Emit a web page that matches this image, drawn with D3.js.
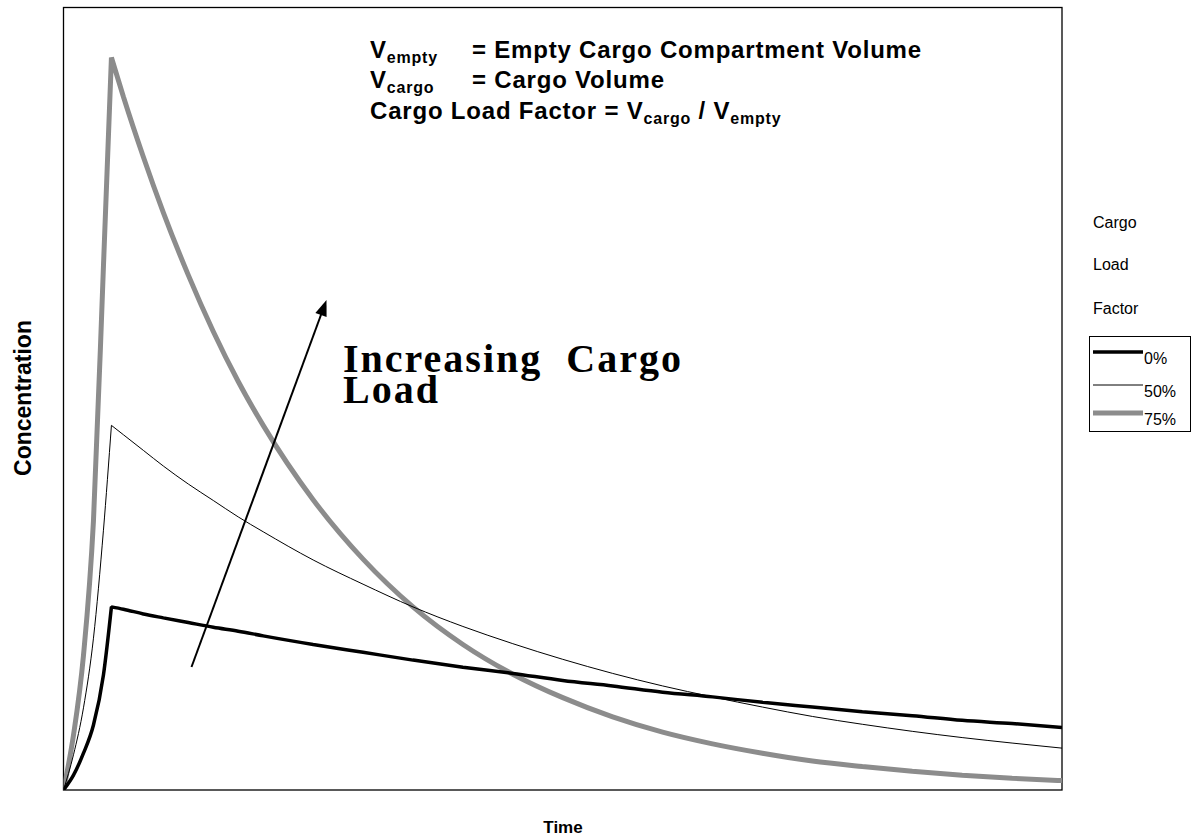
<!DOCTYPE html>
<html>
<head>
<meta charset="utf-8">
<script src="https://cdn.jsdelivr.net/npm/d3@7"></script>
<style>
  html, body { margin: 0; padding: 0; background: #fff; }
  svg { display: block; }
</style>
</head>
<body>
<svg id="chart" width="1192" height="837"></svg>
<script>
// ---- Data (arbitrary units) ----
const time = [0, 1, 2, 3, 4, 4.8, 6, 8, 10, 12.5, 15, 17.5, 20, 25, 30, 35, 40, 45, 50, 55, 60, 65, 70, 75, 80, 85, 90, 95, 100];
const load0  = [0, 1.9, 4.7, 8.3, 14.7, 23.4, 23.1, 22.5, 22.0, 21.4, 20.8, 20.3, 19.7, 18.6, 17.6, 16.6, 15.7, 14.9, 14.0, 13.3, 12.5, 11.9, 11.2, 10.6, 10.0, 9.5, 8.9, 8.5, 8.0];
const load50 = [0, 4.5, 10.5, 19.4, 33.2, 46.6, 45.4, 43.4, 41.4, 39.1, 37.0, 34.9, 33.0, 29.4, 26.3, 23.4, 20.9, 18.7, 16.7, 14.9, 13.3, 11.9, 10.6, 9.4, 8.4, 7.5, 6.7, 6.0, 5.35];
const load75 = [0, 7.0, 17.2, 34.4, 66.9, 93.6, 88.6, 80.9, 73.8, 65.8, 58.6, 52.2, 46.6, 37.1, 29.5, 23.4, 18.6, 14.8, 11.8, 9.35, 7.4, 5.9, 4.7, 3.7, 3.0, 2.4, 1.9, 1.5, 1.2];
const peakTime = 4.8;
const seriesNames = ["0%", "50%", "75%"];
const legendTitle = ["Cargo", "Load", "Factor"];
const xLabel = "Time";
const yLabel = "Concentration";

// ---- Layout ----
const svg = d3.select("#chart");
const plot = { left: 63.5, top: 7.5, right: 1062, bottom: 790 };
const x = d3.scaleLinear().domain([0, 100]).range([plot.left, plot.right]);
const y = d3.scaleLinear().domain([0, 100]).range([plot.bottom, plot.top]);

const styles = [
  { color: "#000", width: 3.5 },
  { color: "#000", width: 1 },
  { color: "#8c8c8c", width: 5 }
];
const data = [load0, load50, load75];

// plot frame
svg.append("rect")
  .attr("x", plot.left).attr("y", plot.top)
  .attr("width", plot.right - plot.left).attr("height", plot.bottom - plot.top)
  .attr("fill", "none").attr("stroke", "#000").attr("stroke-width", 1.3);

const line = d3.line()
  .x(d => x(d[0]))
  .y(d => y(d[1]))
  .curve(d3.curveMonotoneX);

svg.append("clipPath").attr("id", "clip").append("rect")
  .attr("x", plot.left).attr("y", plot.top)
  .attr("width", plot.right - plot.left).attr("height", plot.bottom - plot.top);

const g = svg.append("g").attr("clip-path", "url(#clip)");
[2, 1, 0].forEach(k => {
  const pts = time.map((t, i) => [t, data[k][i]]);
  const rise = pts.filter(p => p[0] <= peakTime);
  const decay = pts.filter(p => p[0] >= peakTime);
  // the peak is a sharp corner: rise and decay are smoothed separately
  const d = line(rise) + line(decay).replace(/^M/, "L");
  g.append("path")
    .attr("d", d)
    .attr("fill", "none")
    .attr("stroke", styles[k].color)
    .attr("stroke-width", styles[k].width)
    .attr("stroke-linejoin", "bevel");
});

// axis titles
svg.append("text")
  .attr("x", 563).attr("y", 833)
  .attr("text-anchor", "middle")
  .attr("font-family", "Liberation Sans, Arial, sans-serif")
  .attr("font-weight", "bold").attr("font-size", 17)
  .text(xLabel);

svg.append("text")
  .attr("transform", "translate(31,398) rotate(-90)")
  .attr("text-anchor", "middle")
  .attr("font-family", "Liberation Sans, Arial, sans-serif")
  .attr("font-weight", "bold").attr("font-size", 23)
  .text(yLabel);

// definitions text block
function addLine(yy, parts) {
  const t = svg.append("text")
    .attr("x", 370).attr("y", yy)
    .attr("font-family", "Liberation Sans, Arial, sans-serif")
    .attr("font-weight", "bold").attr("font-size", 24)
    .attr("letter-spacing", 0.8);
  parts.forEach(p => {
    const ts = t.append("tspan").text(p.t);
    if (p.sub) ts.attr("font-size", 16).attr("dy", 5);
    if (p.up) ts.attr("dy", -5);
    if (p.x != null) ts.attr("x", p.x);
  });
}
addLine(57.5, [{ t: "V" }, { t: "empty", sub: true }, { t: "= Empty Cargo Compartment Volume", up: true, x: 472 }]);
addLine(88, [{ t: "V" }, { t: "cargo", sub: true }, { t: "= Cargo Volume", up: true, x: 472 }]);
addLine(118.5, [{ t: "Cargo Load Factor = V" }, { t: "cargo", sub: true }, { t: " / V", up: true }, { t: "empty", sub: true }]);

// Increasing Cargo Load annotation
const ann = svg.append("text")
  .attr("font-family", "Liberation Serif, 'Times New Roman', serif")
  .attr("font-weight", "bold").attr("font-size", 40)
  .attr("letter-spacing", 2);
ann.append("tspan").attr("x", 343).attr("y", 372).text("Increasing\u00a0 Cargo");
ann.append("tspan").attr("x", 343).attr("y", 403).text("Load");

// arrow
const ax1 = 191.5, ay1 = 667, ax2 = 326.5, ay2 = 300;
svg.append("line")
  .attr("x1", ax1).attr("y1", ay1).attr("x2", ax2 - 3).attr("y2", ay2 + 8)
  .attr("stroke", "#000").attr("stroke-width", 2);
svg.append("path")
  .attr("d", () => {
    const ang = Math.atan2(ay2 - ay1, ax2 - ax1);
    const L = 16, W = 6;
    const bx = ax2 - L * Math.cos(ang), by = ay2 - L * Math.sin(ang);
    const px = -Math.sin(ang) * W, py = Math.cos(ang) * W;
    return `M${ax2},${ay2} L${bx + px},${by + py} L${bx - px},${by - py} Z`;
  })
  .attr("fill", "#000");

// legend
const legTitle = svg.append("g")
  .attr("font-family", "Liberation Sans, Arial, sans-serif")
  .attr("font-size", 16);
legendTitle.forEach((t, i) => {
  legTitle.append("text").attr("x", 1093).attr("y", [228, 270, 314][i]).text(t);
});
svg.append("rect")
  .attr("x", 1089.5).attr("y", 336.5).attr("width", 101).attr("height", 95)
  .attr("fill", "#fff").attr("stroke", "#000").attr("stroke-width", 1);
seriesNames.forEach((n, i) => {
  const ly = [352, 385, 413][i];
  svg.append("line")
    .attr("x1", 1093).attr("x2", 1143).attr("y1", ly).attr("y2", ly)
    .attr("stroke", styles[i].color).attr("stroke-width", styles[i].width);
  svg.append("text")
    .attr("x", 1144).attr("y", ly + 12)
    .attr("font-family", "Liberation Sans, Arial, sans-serif")
    .attr("font-size", 16)
    .text(n);
});
</script>
</body>
</html>
